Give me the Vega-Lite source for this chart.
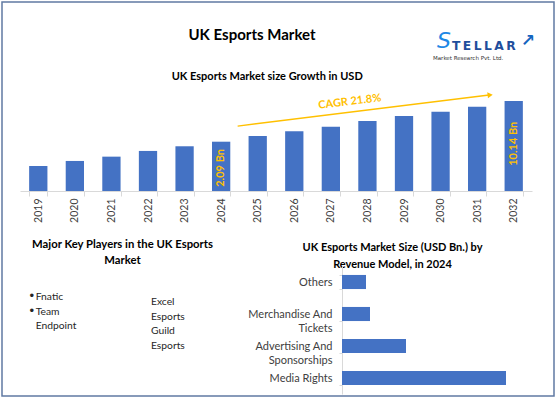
{
  "$schema": "https://vega.github.io/schema/vega-lite/v6.json",
  "width": 552,
  "height": 394,
  "autosize": {"type": "none"},
  "padding": {"left": 2, "top": 2, "right": 4, "bottom": 1},
  "background": "white",
  "title": {"text": "UK Esports Market", "anchor": "middle", "frame": "group", "offset": -59, "dx": -26, "baseline": "alphabetic", "fontSize": 15, "fontWeight": "bold", "color": "#000000"},
  "config": {
    "font": "Lato",
    "view": {"stroke": "#607aa3", "strokeWidth": 1.5},
    "axis": {"grid": false}
  },
  "resolve": {"scale": {"x": "independent", "y": "independent"}, "axis": {"x": "independent", "y": "independent"}},
  "layer": [
    {
      "data": {"values": [
        {"year": "2019", "value": 0.81},
        {"year": "2020", "value": 0.99},
        {"year": "2021", "value": 1.17},
        {"year": "2022", "value": 1.46},
        {"year": "2023", "value": 1.75},
        {"year": "2024", "value": 2.09, "label": "2.09 Bn"},
        {"year": "2025", "value": 2.61},
        {"year": "2026", "value": 3.13},
        {"year": "2027", "value": 3.74},
        {"year": "2028", "value": 4.67},
        {"year": "2029", "value": 5.67},
        {"year": "2030", "value": 6.69},
        {"year": "2031", "value": 8.13},
        {"year": "2032", "value": 10.14, "label": "10.14 Bn"}
      ]},
      "encoding": {
        "x": {"field": "year", "type": "ordinal",
          "scale": {"domain": ["2019", "2020", "2021", "2022", "2023", "2024", "2025", "2026", "2027", "2028", "2029", "2030", "2031", "2032"], "range": [18, 530], "paddingInner": 0.5, "paddingOuter": 0.25},
          "axis": {"orient": "bottom", "offset": -205, "labelAngle": -90, "labelFontSize": 10.5, "labelColor": "#404040", "labelPadding": 2, "tickSize": 5, "tickColor": "#d9d9d9", "domainColor": "#d9d9d9", "tickBand": "extent",
            "title": "UK Esports Market size Growth in USD", "titleX": 264.7, "titleY": -112, "titleAlign": "center", "titleBaseline": "alphabetic", "titleAngle": 0, "titleFontSize": 11, "titleFontWeight": "bold", "titleColor": "#000000"}},
        "y": {"field": "value", "type": "quantitative", "scale": {"type": "log", "domain": [0.3085, 10.14], "range": [189, 99], "nice": false}, "axis": null}
      },
      "layer": [
        {
          "mark": {"type": "bar", "color": "#4472C4"},
          "encoding": {"y2": {"datum": 0.3085}}
        },
        {
          "transform": [{"filter": "datum.year == '2024'"}],
          "mark": {"type": "text", "angle": 270, "align": "right", "baseline": "middle", "dx": -7.3, "fontSize": 11, "fontWeight": "bold", "color": "#FFC000"},
          "encoding": {"text": {"field": "label"}}
        },
        {
          "transform": [{"filter": "datum.year == '2032'"}],
          "mark": {"type": "text", "angle": 270, "align": "right", "baseline": "middle", "dx": -20.7, "fontSize": 11, "fontWeight": "bold", "color": "#FFC000"},
          "encoding": {"text": {"field": "label"}}
        },
        {
          "data": {"values": [{"year": "2024", "value": 3.84, "yearEnd": "2031", "valueEnd": 12.8}]},
          "mark": {"type": "rule", "color": "#FFC000", "strokeWidth": 1.3, "xOffset": 16.5, "x2Offset": 12},
          "encoding": {"x2": {"field": "yearEnd"}, "y2": {"field": "valueEnd"}}
        },
        {
          "data": {"values": [{"year": "2031", "value": 12.8}]},
          "mark": {"type": "point", "shape": "triangle-right", "angle": 353, "size": 35, "filled": true, "opacity": 1, "color": "#FFC000", "xOffset": 13}
        },
        {
          "data": {"values": [{"year": "2027", "value": 9.76, "cagr": "CAGR 21.8%"}]},
          "mark": {"type": "text", "angle": 353, "align": "center", "baseline": "middle", "xOffset": 19, "fontSize": 11, "fontWeight": "bold", "color": "#FFC000"},
          "encoding": {"text": {"field": "cagr"}}
        }
      ]
    },
    {
      "data": {"values": [
        {"model": "Others", "value": 0.18},
        {"model": "Merchandise And Tickets", "value": 0.21},
        {"model": "Advertising And Sponsorships", "value": 0.48},
        {"model": "Media Rights", "value": 1.23}
      ]},
      "mark": {"type": "bar", "color": "#4472C4"},
      "encoding": {
        "x": {"field": "value", "type": "quantitative",
          "scale": {"domain": [0, 1.23], "range": [340, 504], "nice": false, "zero": true},
          "axis": {"orient": "top", "offset": 0, "labels": false, "ticks": false, "domain": false,
            "title": ["UK Esports Market Size (USD Bn.) by", "Revenue Model, in 2024"], "titleX": 390, "titleY": 248, "titleAlign": "center", "titleBaseline": "alphabetic", "titleAngle": 0, "titleLineHeight": 17, "titleFontSize": 11, "titleFontWeight": "bold", "titleColor": "#000000"}},
        "y": {"field": "model", "type": "nominal",
          "sort": ["Others", "Merchandise And Tickets", "Advertising And Sponsorships", "Media Rights"],
          "scale": {"range": [264, 392], "paddingInner": 0.56, "paddingOuter": 0.28},
          "axis": {"orient": "left", "offset": -340, "title": null, "labelExpr": "split(replace(datum.label, 'And ', 'And|'), '|')", "labelFontSize": 11, "labelColor": "#404040", "labelLineHeight": 14, "labelPadding": 7, "tickSize": 3, "tickColor": "#d9d9d9", "domainColor": "#d9d9d9", "tickBand": "extent"}}
      }
    },
    {
      "data": {"values": [
        {"player": "Fnatic", "list": "A", "line": 1},
        {"player": "Team Endpoint", "list": "A", "line": 2},
        {"player": "Excel Esports", "list": "B", "line": 1},
        {"player": "Guild Esports", "list": "B", "line": 3}
      ]},
      "encoding": {
        "x": {"field": "list", "type": "nominal",
          "scale": {"type": "point", "domain": ["A", "B"], "range": [26.3, 149], "padding": 0},
          "axis": {"orient": "top", "offset": 0, "labels": false, "ticks": false, "domain": false,
            "title": ["Major Key Players in the UK Esports", "Market"], "titleX": 120, "titleY": 245, "titleAlign": "center", "titleBaseline": "alphabetic", "titleAngle": 0, "titleLineHeight": 16, "titleFontSize": 11.3, "titleFontWeight": "bold", "titleColor": "#000000"}},
        "y": {"field": "line", "type": "quantitative",
          "scale": {"domain": [1, 4], "range": [298.2, 341.7], "nice": false, "zero": false}, "axis": null}
      },
      "layer": [
        {
          "transform": [{"filter": "datum.list == 'A'"}],
          "mark": {"type": "text", "text": "•", "align": "left", "baseline": "alphabetic", "fontSize": 12, "font": "DejaVu Sans", "color": "#262626"}
        },
        {
          "transform": [{"filter": "datum.list == 'A'"}],
          "mark": {"type": "text", "align": "left", "baseline": "alphabetic", "dx": 7.4, "fontSize": 10.3, "lineBreak": " ", "lineHeight": 14.5, "color": "#262626"},
          "encoding": {"text": {"field": "player"}}
        },
        {
          "transform": [{"filter": "datum.list == 'B'"}],
          "mark": {"type": "text", "align": "left", "baseline": "alphabetic", "dy": 5, "fontSize": 10.3, "lineBreak": " ", "lineHeight": 14.5, "color": "#262626"},
          "encoding": {"text": {"field": "player"}}
        }
      ]
    },
    {
      "data": {"values": [{"brand": "S", "rest": "T\u2009E\u2009L\u2009L\u2009A\u2009R", "arrow": "↗", "tagline": "Market Research Pvt. Ltd."}]},
      "layer": [
        {"mark": {"type": "text", "align": "center", "baseline": "middle", "dx": 166, "dy": -158, "fontSize": 22, "fontStyle": "italic", "font": "DejaVu Sans", "color": "#1e88e5"}, "encoding": {"text": {"field": "brand"}}},
        {"mark": {"type": "text", "align": "left", "baseline": "middle", "dx": 174, "dy": -153, "fontSize": 12.3, "fontWeight": "bold", "font": "DejaVu Sans", "color": "#1f4e9c"}, "encoding": {"text": {"field": "rest"}}},
        {"mark": {"type": "text", "align": "center", "baseline": "middle", "dx": 250, "dy": -158, "fontSize": 17, "fontWeight": "bold", "font": "DejaVu Sans", "color": "#1565c0"}, "encoding": {"text": {"field": "arrow"}}},
        {"mark": {"type": "text", "align": "left", "baseline": "middle", "dx": 155, "dy": -141.5, "fontSize": 5.5, "font": "DejaVu Sans", "color": "#333333"}, "encoding": {"text": {"field": "tagline"}}}
      ]
    }
  ]
}
